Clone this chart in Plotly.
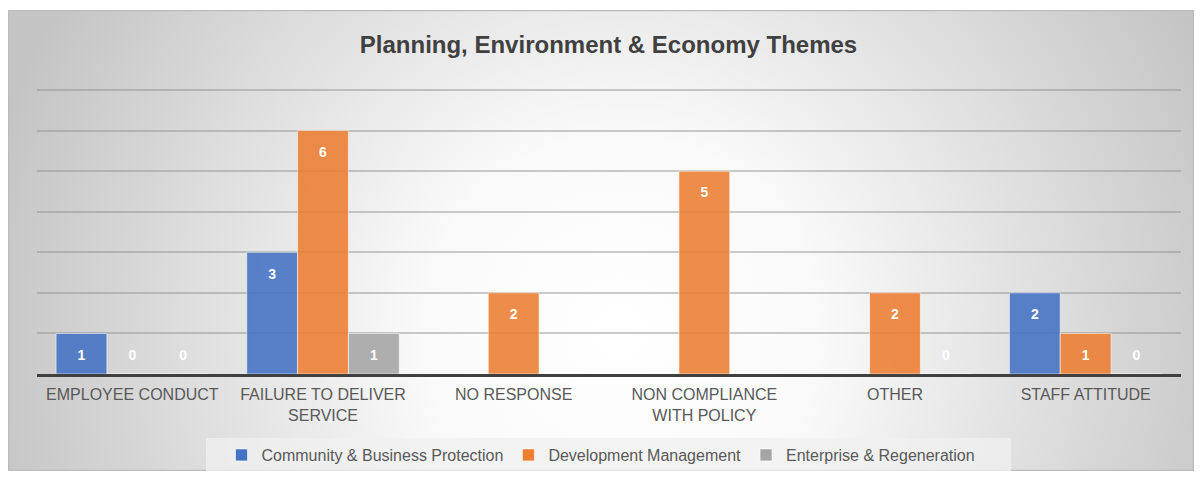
import base64
import plotly.graph_objects as go

# data
categories = ["EMPLOYEE CONDUCT", "FAILURE TO DELIVER<br>SERVICE", "NO RESPONSE",
              "NON COMPLIANCE<br>WITH POLICY", "OTHER", "STAFF ATTITUDE"]
community = [1, 3, None, None, None, 2]
development = [0, 6, 2, 5, 2, 1]
enterprise = [0, 1, None, None, 0, 0]

series = [
    ("Community & Business Protection", community, "#4472C4"),
    ("Development Management", development, "#ED7D31"),
    ("Enterprise & Regeneration", enterprise, "#A5A5A5"),
]

W, H = 1186, 463
L, R, T, B = 29, 13, 78, 97
pw, ph = W - L - R, H - T - B

fig = go.Figure()
for i, (name, vals, col) in enumerate(series):
    fig.add_trace(go.Bar(
        x=categories, y=vals, name=name, offsetgroup=str(i),
        marker=dict(color=col, opacity=0.88, line=dict(color="rgba(255,255,255,0.6)", width=1)),
        hoverinfo="x+y+name",
    ))
# white value labels sitting just inside the bar tops
for i, (name, vals, col) in enumerate(series):
    xs, ys, ts = [], [], []
    for c, v in zip(categories, vals):
        if v is None:
            continue
        xs.append(c)
        ys.append(max(v, 1) - 0.56)
        ts.append(str(v))
    fig.add_trace(go.Scatter(
        x=xs, y=ys, text=ts, mode="text", offsetgroup=str(i), showlegend=False,
        textfont=dict(family="Liberation Sans", size=14, color="white", weight="bold"),
        hoverinfo="skip", cliponaxis=False,
    ))

# radial grey-white background of the chart area
svg = ('<svg xmlns="http://www.w3.org/2000/svg" width="1186" height="461">'
       '<defs><radialGradient id="g" gradientUnits="userSpaceOnUse" cx="612" cy="322" r="650">'
       '<stop offset="0" stop-color="#ffffff"/><stop offset="0.3" stop-color="#fafafa"/>'
       '<stop offset="1" stop-color="#c4c4c4"/></radialGradient></defs>'
       '<rect x="0" y="0" width="1186" height="461" fill="url(#g)"/>'
       '<rect x="0.5" y="0.5" width="1185" height="460" fill="none" stroke="#bcbcbc" stroke-width="1.5"/>'
       '</svg>')
src = "data:image/svg+xml;base64," + base64.b64encode(svg.encode()).decode()

fig.update_layout(
    width=W, height=H,
    margin=dict(l=L, r=R, t=T, b=B),
    paper_bgcolor="white", plot_bgcolor="rgba(0,0,0,0)",
    barmode="group", bargap=0.2, bargroupgap=0,
    scattermode="group", scattergap=0.2,
    font=dict(family="Liberation Sans", color="#595959"),
    title=dict(text="<b>Planning, Environment & Economy Themes</b>",
               font=dict(size=24, color="#404040"),
               x=600.5 / W, xref="container", xanchor="center",
               y=1 - 37 / H, yref="container", yanchor="middle"),
    legend=dict(orientation="h", x=0.5, xref="container", xanchor="center",
                y=1 - 447 / H, yref="container", yanchor="middle",
                font=dict(size=16, color="#595959"), bgcolor="rgba(0,0,0,0)",
                itemwidth=30),
    images=[dict(source=src, xref="paper", yref="paper",
                 x=-L / pw, y=1 + (T - 2) / ph, sizex=W / pw, sizey=(H - 2) / ph,
                 xanchor="left", yanchor="top", sizing="stretch", layer="below")],
    shapes=[dict(type="rect", xref="paper", yref="paper",
                 x0=(198 - L) / pw, x1=(1003 - L) / pw,
                 y0=1 - (463 - T) / ph, y1=1 - (430 - T) / ph,
                 fillcolor="rgba(240,240,240,0.75)", line=dict(width=0), layer="below")],
    showlegend=True,
)
fig.update_xaxes(showline=True, linecolor="#404040", linewidth=3, ticks="",
                 tickfont=dict(size=16, color="#595959"), showgrid=False,
                 ticklabelstandoff=4)
fig.update_yaxes(range=[0, 7.1], tickvals=[1, 2, 3, 4, 5, 6, 7], showticklabels=False,
                 showgrid=True, gridcolor="rgba(140,140,140,0.45)", gridwidth=1.5,
                 zeroline=False, fixedrange=True)

fig.write_html("out.html")
